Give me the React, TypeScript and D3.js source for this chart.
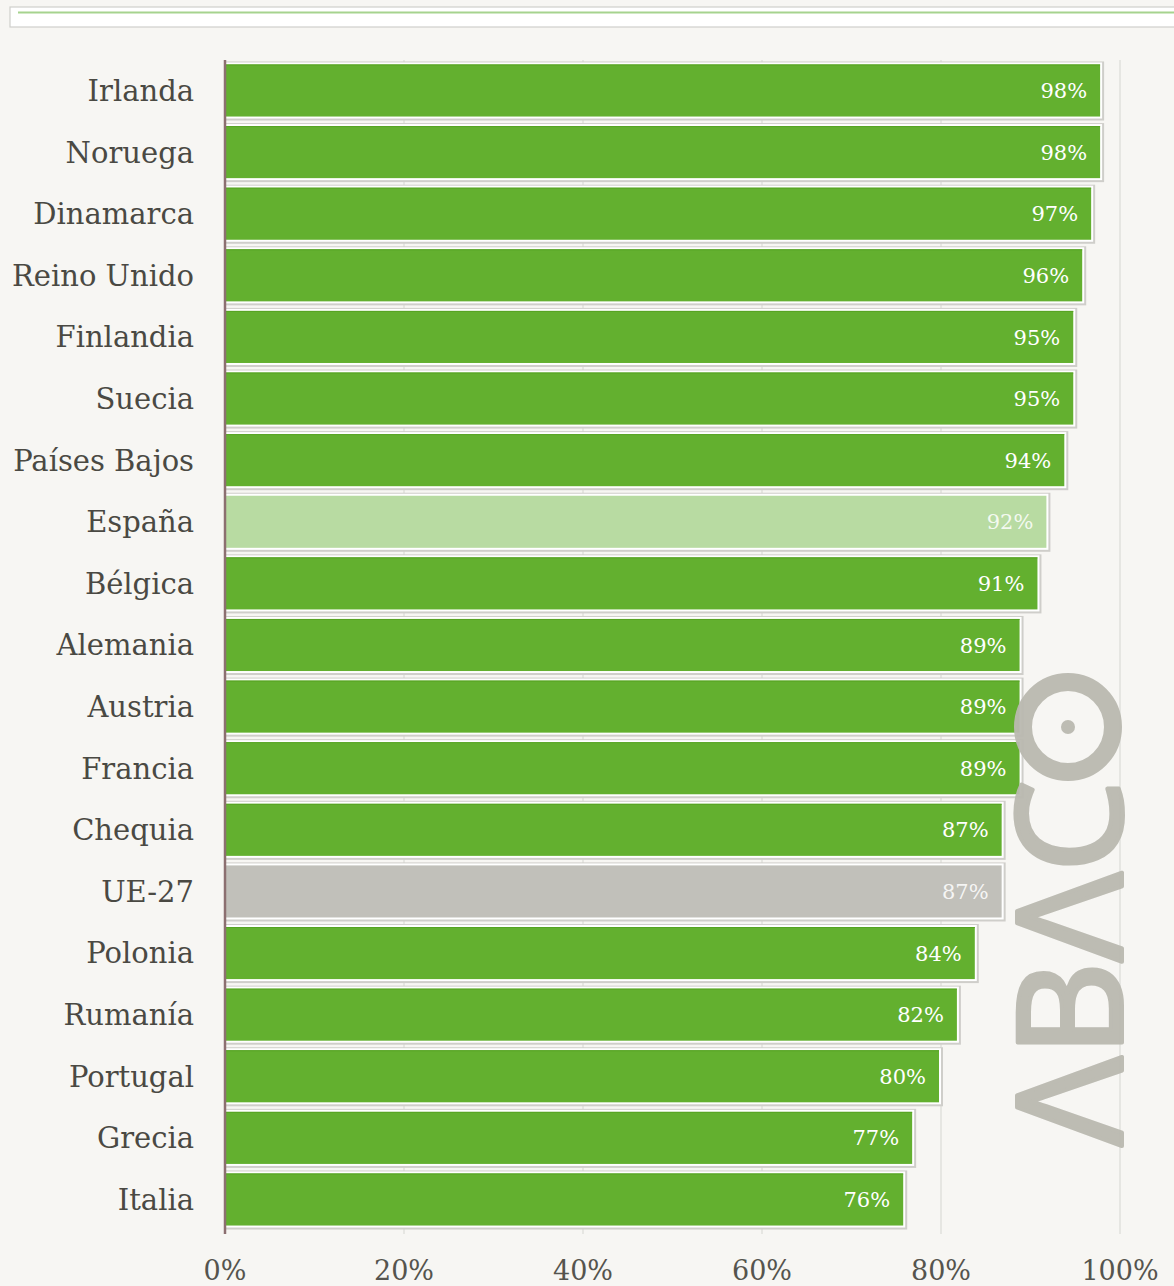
import React from 'react';
import * as d3 from 'd3';

const countries = [
  'Irlanda', 'Noruega', 'Dinamarca', 'Reino Unido', 'Finlandia', 'Suecia',
  'Países Bajos', 'España', 'Bélgica', 'Alemania', 'Austria', 'Francia',
  'Chequia', 'UE-27', 'Polonia', 'Rumanía', 'Portugal', 'Grecia', 'Italia'
];
const values = [98, 98, 97, 96, 95, 95, 94, 92, 91, 89, 89, 89, 87, 87, 84, 82, 80, 77, 76];
const ticks = [0, 20, 40, 60, 80, 100];
const highlight: Record<string, string> = { 'España': '#b8dba2', 'UE-27': '#c1c0ba' };

const width = 1174;
const height = 1286;
const margin = { top: 60, right: 54, bottom: 56, left: 225 };
const barGreen = '#63b02f';
const logoGray = '#bab9b0';
const serif = '"DejaVu Serif", serif';

export default function App() {
  const x = d3.scaleLinear().domain([0, 100]).range([margin.left, width - margin.right]);
  const y = d3.scaleBand<string>()
    .domain(countries)
    .range([margin.top, height - margin.bottom])
    .paddingInner(0.09)
    .paddingOuter(0.04);
  const bw = y.bandwidth();

  return (
    <svg width={width} height={height} style={{ position: 'absolute', left: 0, top: 0, background: '#f7f6f3' }}
      fontFamily={serif}>
      <rect x={0} y={0} width={width} height={height} fill="#f7f6f3" />

      {/* cut-off header box */}
      <rect x={10} y={7} width={1180} height={20} fill="#ffffff" stroke="#cfcfcc" strokeWidth={1.2} />
      <line x1={18} x2={1190} y1={12.5} y2={12.5} stroke="#a6d38e" strokeWidth={2} />

      {/* gridlines */}
      {ticks.slice(1).map(t => (
        <line key={t} x1={x(t)} x2={x(t)} y1={margin.top} y2={height - margin.bottom + 4}
          stroke="#e1e0dc" strokeWidth={1.5} />
      ))}

      {/* bars */}
      {countries.map((c, i) => {
        const y0 = y(c)!;
        const w = x(values[i]) - x(0);
        const fill = highlight[c] || barGreen;
        return (
          <g key={c}>
            <rect x={x(0)} y={y0 - 1} width={w + 2} height={bw + 3} fill="#cfceca" />
            <rect x={x(0)} y={y0} width={w} height={bw} fill="#ffffff" />
            <rect x={x(0)} y={y0 + 2} width={w - 2} height={bw - 4} fill={fill} />
            {!highlight[c] && (
              <line x1={x(0)} x2={x(0) + w - 2} y1={y0 + 2.5} y2={y0 + 2.5} stroke="#56a322" strokeWidth={1} />
            )}
            <text x={x(values[i]) - 15} y={y0 + bw / 2} dy="0.36em" textAnchor="end"
              fontSize={21} fill="#ffffff" fillOpacity={highlight[c] ? 0.85 : 1}>
              {values[i]}%
            </text>
            <text x={194} y={y0 + bw / 2} dy="0.36em" textAnchor="end" fontSize={29} fill="#4a4943">
              {c}
            </text>
          </g>
        );
      })}

      {/* axis line */}
      <line x1={x(0)} x2={x(0)} y1={margin.top} y2={height - margin.bottom + 4} stroke="#8c6f70" strokeWidth={2.5} />

      {/* x tick labels */}
      {ticks.map(t => (
        <text key={t} x={x(t)} y={1280} textAnchor="middle" fontSize={27} fill="#55544e">
          {t}%
        </text>
      ))}

      {/* watermark */}
      <g fill={logoGray} opacity={0.95}>
        <g transform="translate(1122, 1146) rotate(-90)">
          <text x={0} y={0} fontFamily='"Noto Sans", sans-serif' fontSize={146}
            textLength={366} lengthAdjust="spacingAndGlyphs"
            stroke={logoGray} strokeWidth={4} strokeLinejoin="round">ΛBΛC</text>
        </g>
        <circle cx={1068} cy={727} r={45} fill="none" stroke={logoGray} strokeWidth={18} />
        <circle cx={1068} cy={727} r={7} />
      </g>
    </svg>
  );
}
